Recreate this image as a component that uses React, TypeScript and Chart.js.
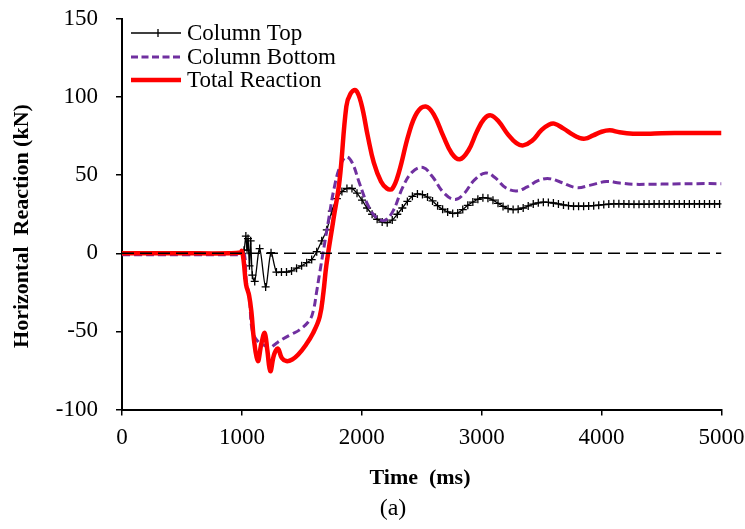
import React, { useEffect, useRef } from "react";
import { Chart, registerables } from "chart.js";

Chart.register(...registerables);

// ---- Data ----
const xTicks = [0, 1000, 2000, 3000, 4000, 5000];
const yTicks = [-100, -50, 0, 50, 100, 150];

// Column Top: early irregular samples
const topEarlyTime = [0, 500, 900, 1000, 1018, 1033, 1043, 1051, 1063, 1073, 1087, 1107, 1148, 1198, 1243];
const topEarlyVals = [0, 0, 0, 0, 2, 11, 2, 9.4, -8, 8, -14, -18, 3, -21.5, 0.4];
// Column Top: regular samples every 42 ms from 1288 ms
const topStart = 1288;
const topStep = 42;
const topVals = [
  -12, -12, -12, -11.3, -9.5, -8, -6, -4, 1, 8,
  15, 27, 35, 39.5, 41.5, 41.5, 38.5, 34, 29, 25,
  21.8, 20, 19.6, 21.3, 25, 29, 33.2, 36.5, 38, 37.6,
  36, 33.5, 30.5, 28.2, 26.5, 25.5, 25.8, 28, 30.7, 32.8,
  34.6, 35.6, 35.3, 34, 32, 30, 28.6, 28, 28.2, 29,
  30.3, 31.5, 32.3, 32.7, 32.6, 32.2, 31.6, 31, 30.5, 30.2,
  30.2, 30.2, 30.3, 30.5, 30.8, 31.2, 31.5, 31.7, 31.7, 31.6,
  31.5, 31.4, 31.4, 31.5, 31.5, 31.6, 31.6, 31.6, 31.6, 31.6,
  31.6, 31.6, 31.6, 31.6, 31.6, 31.6, 31.6, 31.6, 31.6, 31.6,
];

const bottomTime = [
  0, 500, 900, 1000, 1022, 1037, 1062, 1088, 1140, 1190, 1232, 1280, 1328, 1408, 1481, 1566, 1598,
  1621, 1650, 1676, 1720, 1770, 1820, 1871, 1920, 1980, 2050, 2120, 2191, 2260, 2340, 2420,
  2511, 2590, 2680, 2775, 2850, 2940, 3034, 3110, 3200, 3290, 3380, 3470, 3563, 3660, 3791,
  3900, 4041, 4150, 4264, 4400, 4600, 4800, 5000,
];
const bottomVals = [
  -1, -1, -1, -1, -1, -18, -28, -50, -57, -59, -60.5, -58, -55.5, -52, -49, -42.7, -36,
  -25.8, -12, 0, 20, 42, 56, 61.7, 58, 45, 31, 23, 21.1, 27, 42, 52,
  54.9, 49, 39, 34.4, 38, 47, 51.4, 48.5, 42, 39.9, 42.5, 46.5, 47.8, 45.5, 42,
  43.5, 46, 45, 44.2, 44.2, 44.4, 44.6, 44.6,
];

const totalTime = [
  0, 500, 900, 990, 1000, 1015, 1035, 1060, 1080, 1100, 1133, 1162, 1190, 1212, 1237, 1268, 1300, 1333,
  1371, 1420, 1468, 1530, 1594, 1649, 1680, 1704, 1760, 1815, 1871, 1905, 1949, 1995, 2050,
  2100, 2160, 2210, 2255, 2310, 2390, 2460, 2533, 2600, 2680, 2750, 2817, 2890, 2960, 3020,
  3076, 3140, 3220, 3290, 3346, 3420, 3500, 3560, 3605, 3680, 3760, 3810, 3861, 3930, 4000,
  4069, 4150, 4262, 4380, 4500, 4650, 4800, 5000,
];
const totalVals = [
  0, 0, 0, 0.5, 1.5, -5, -20, -27, -38, -55, -69, -58, -51, -62, -75.5, -65, -61, -67,
  -69, -68, -65, -59, -51, -40.6, -25, -8, 20, 47, 94, 102, 104.4, 96, 75,
  58, 46, 41.5, 41.4, 52, 76, 90, 94, 89, 75, 64, 60.2, 66, 78, 86,
  88.3, 84.5, 76, 70.5, 69.1, 72, 79, 82.3, 83, 80, 76, 74, 73.4, 75.5, 77.8,
  78.7, 77.5, 76.6, 76.5, 76.9, 77, 77, 77,
];

const seriesNames = ["Column Top", "Column Bottom", "Total Reaction"];
const colors = { top: "#000000", bottom: "#7030A0", total: "#FF0000" };

const FONT = "'Liberation Serif', 'Times New Roman', serif";

function pts(times: number[], vals: number[]) {
  return vals.map((v, i) => ({ x: times[i], y: v }));
}

export default function App() {
  const ref = useRef<HTMLCanvasElement | null>(null);

  useEffect(() => {
    document.body.style.margin = "0";
    const canvas = ref.current;
    if (!canvas) return;

    const topTimes = topVals.map((_, i) => topStart + i * topStep).filter((t) => t <= 5000);
    const topData = [
      ...pts(topEarlyTime, topEarlyVals),
      ...pts(topTimes, topVals.slice(0, topTimes.length)),
    ];
    // markers only where the reference shows them (not on the flat start)
    const topRadius = topData.map((p) => (p.x > 0 && p.x < 1000 ? 0 : 4));

    const overlay = {
      id: "overlay",
      afterDraw(chart: any) {
        const ctx = chart.ctx as CanvasRenderingContext2D;
        ctx.save();
        ctx.fillStyle = "#000";
        ctx.font = `bold 22px ${FONT}`;
        ctx.textAlign = "center";
        ctx.textBaseline = "middle";
        ctx.save();
        ctx.translate(22, 226);
        ctx.rotate(-Math.PI / 2);
        ctx.fillText("Horizontal  Reaction (kN)", 0, 0);
        ctx.restore();
        ctx.fillText("Time  (ms)", 420, 478);
        ctx.font = `24px ${FONT}`;
        ctx.fillText("(a)", 393, 509);

        // Legend
        const lx0 = 131, lx1 = 181, tx = 187;
        const rows = [33, 57, 80];
        ctx.textAlign = "left";
        ctx.font = `23px ${FONT}`;
        ctx.strokeStyle = colors.top;
        ctx.lineWidth = 1.3;
        ctx.beginPath();
        ctx.moveTo(lx0, rows[0]);
        ctx.lineTo(lx1, rows[0]);
        ctx.moveTo(158, rows[0] - 4);
        ctx.lineTo(158, rows[0] + 4);
        ctx.stroke();
        ctx.strokeStyle = colors.bottom;
        ctx.lineWidth = 3;
        ctx.setLineDash([7, 3.5]);
        ctx.beginPath();
        ctx.moveTo(lx0, rows[1]);
        ctx.lineTo(lx1, rows[1]);
        ctx.stroke();
        ctx.setLineDash([]);
        ctx.strokeStyle = colors.total;
        ctx.lineWidth = 4.5;
        ctx.beginPath();
        ctx.moveTo(lx0, rows[2]);
        ctx.lineTo(lx1, rows[2]);
        ctx.stroke();
        ctx.fillStyle = "#000";
        seriesNames.forEach((n, i) => ctx.fillText(n, tx, rows[i] + 1));
        ctx.restore();
      },
    };

    const noPad = (s: any) => {
      s.paddingLeft = 0;
      s.paddingRight = 0;
      s.paddingTop = 0;
      s.paddingBottom = 0;
    };

    const chart = new Chart(canvas, {
      type: "line",
      data: {
        datasets: [
          {
            label: "zero",
            data: [{ x: 0, y: 0 }, { x: 5000, y: 0 }],
            borderColor: "#000",
            borderWidth: 1.5,
            borderDash: [12, 6],
            pointRadius: 0,
            order: 0,
          },
          {
            label: seriesNames[2],
            data: pts(totalTime, totalVals),
            borderColor: colors.total,
            borderWidth: 4.5,
            pointRadius: 0,
            tension: 0.4,
            order: 1,
          },
          {
            label: seriesNames[1],
            data: pts(bottomTime, bottomVals),
            borderColor: colors.bottom,
            borderWidth: 3,
            borderDash: [8, 4],
            pointRadius: 0,
            tension: 0.4,
            order: 2,
          },
          {
            label: seriesNames[0],
            data: topData,
            borderColor: colors.top,
            borderWidth: 1.3,
            pointStyle: "cross",
            pointRadius: topRadius,
            pointBorderWidth: 1.3,
            pointBorderColor: colors.top,
            pointBackgroundColor: colors.top,
            tension: 0.3,
            order: 3,
          },
        ] as any,
      },
      options: {
        responsive: false,
        animation: false,
        events: [],
        layout: { padding: { left: 0, right: 23.5, top: 19, bottom: 0 } },
        plugins: { legend: { display: false }, tooltip: { enabled: false } },
        scales: {
          x: {
            type: "linear",
            min: 0,
            max: 5000,
            afterBuildTicks: (s: any) => {
              s.ticks = xTicks.map((v) => ({ value: v }));
            },
            afterFit: (s: any) => {
              s.height = 119.5;
              noPad(s);
            },
            ticks: {
              color: "#000",
              font: { family: FONT, size: 23 },
              padding: 9,
              maxRotation: 0,
              callback: (v: any) => String(v),
            },
            grid: {
              drawOnChartArea: false,
              drawTicks: true,
              tickLength: 6,
              color: "#000",
              lineWidth: 1.5,
            },
            border: { display: true, color: "#000", width: 2 },
          },
          y: {
            type: "linear",
            min: -100,
            max: 150,
            afterBuildTicks: (s: any) => {
              s.ticks = yTicks.map((v) => ({ value: v }));
            },
            afterFit: (s: any) => {
              s.width = 122;
              noPad(s);
            },
            ticks: {
              color: "#000",
              font: { family: FONT, size: 23 },
              padding: 18,
              callback: (v: any) => String(v),
            },
            grid: {
              drawOnChartArea: false,
              drawTicks: true,
              tickLength: 6,
              color: "#000",
              lineWidth: 1.5,
            },
            border: { display: true, color: "#000", width: 2 },
          },
        },
      } as any,
      plugins: [overlay],
    });

    return () => chart.destroy();
  }, []);

  return (
    <div style={{ width: 745, height: 529, background: "#fff" }}>
      <canvas ref={ref} width={745} height={529} style={{ display: "block" }} />
    </div>
  );
}
